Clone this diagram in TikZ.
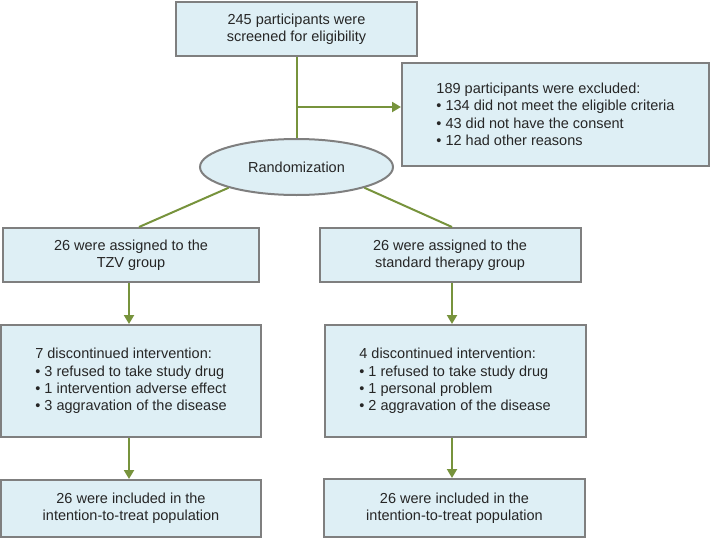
\documentclass[tikz,border=0pt]{standalone}
\usepackage{fontspec}
\setmainfont{Liberation Sans}
\usetikzlibrary{arrows.meta,shapes.geometric}
\definecolor{boxfill}{HTML}{DEEFF5}
\definecolor{boxline}{HTML}{7F7F7F}
\definecolor{linkgreen}{HTML}{77933C}
\definecolor{txt}{HTML}{262626}

\begin{document}
\begin{tikzpicture}[
  x=1pt, y=-1pt,
  font=\fontsize{14.5}{17.4}\selectfont,
  box/.style={draw=boxline, line width=2pt, fill=boxfill, text=txt,
    align=center, inner sep=2pt},
  oval/.style={ellipse, draw=boxline, line width=2pt, fill=boxfill,
    text=txt, inner sep=0pt},
  link/.style={draw=linkgreen, line width=2pt},
  arr/.style={link, -{Triangle[length=9pt,width=10pt]}}]

  \useasboundingbox (0,0) rectangle (711,538);

  % screening and exclusion
  \node[box, minimum width=241, minimum height=54] (screen) at (296.5,29)
    {245 participants were\\screened for eligibility};
  \node[box, align=left, minimum width=307, minimum height=103] (excl) at (555.5,114.5)
    {189 participants were excluded:\\
     \textbullet\ 134 did not meet the eligible criteria\\
     \textbullet\ 43 did not have the consent\\
     \textbullet\ 12 had other reasons};
  \node[oval, minimum width=193, minimum height=56] (rand) at (296.5,167) {Randomization};

  % the two arms
  \node[box, minimum width=256, minimum height=54] (tzv) at (131,255)
    {26 were assigned to the\\TZV group};
  \node[box, minimum width=261, minimum height=54] (std) at (450,255)
    {26 were assigned to the\\standard therapy group};
  \node[box, align=left, minimum width=260, minimum height=112] (disc1) at (131,381)
    {7 discontinued intervention:\\
     \textbullet\ 3 refused to take study drug\\
     \textbullet\ 1 intervention adverse effect\\
     \textbullet\ 3 aggravation of the disease};
  \node[box, align=left, minimum width=261, minimum height=112] (disc2) at (455,381)
    {4 discontinued intervention:\\
     \textbullet\ 1 refused to take study drug\\
     \textbullet\ 1 personal problem\\
     \textbullet\ 2 aggravation of the disease};
  \node[box, minimum width=260, minimum height=57] (itt1) at (131,508.5)
    {26 were included in the\\intention-to-treat population};
  \node[box, minimum width=261, minimum height=58] (itt2) at (454.5,508)
    {26 were included in the\\intention-to-treat population};

  % connectors
  \coordinate (split) at (296.5,107);
  \draw[link] (screen.south) -- (rand.north);
  \draw[arr] (split) -- (split -| excl.west);
  \draw[link] (rand.197) -- ([xshift=8pt]tzv.north);
  \draw[link] (rand.343) -- ([xshift=2pt]std.north);
  \draw[arr] ([xshift=-2pt]tzv.south) -- ([xshift=-2pt]tzv.south |- disc1.north);
  \draw[arr] ([xshift=-2pt]disc1.south) -- ([xshift=-2pt]disc1.south |- itt1.north);
  \draw[arr] ([xshift=2pt]std.south) -- ([xshift=2pt]std.south |- disc2.north);
  \draw[arr] ([xshift=-3pt]disc2.south) -- ([xshift=-3pt]disc2.south |- itt2.north);
\end{tikzpicture}
\end{document}
